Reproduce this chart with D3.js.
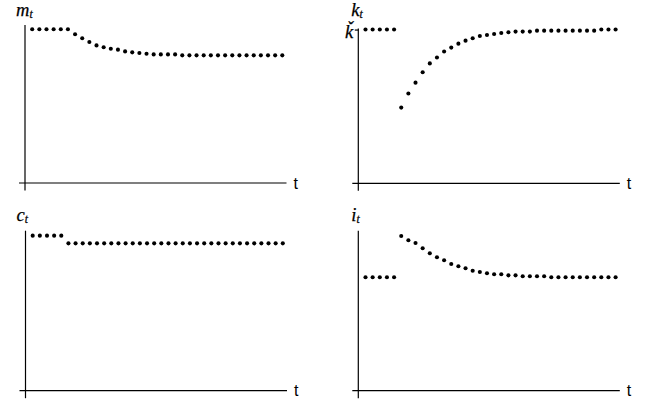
<!DOCTYPE html>
<html><head><meta charset="utf-8">
<script src="https://cdn.jsdelivr.net/npm/d3@7"></script>
<style>
html,body{margin:0;padding:0;background:#fff;}
svg{display:block;}
</style></head>
<body>
<svg id="c" width="648" height="401"></svg>
<script>
// period index
const periods = [0,1,2,3,4,5,6,7,8,9,10,11,12,13,14,15,16,17,18,19,20,21,22,23,24,25,26,27,28,29,30,31,32,33,34,35];
// series (arbitrary units: axis = 0, top of plot = 100)
const mSeries = [97.3,97.3,97.3,97.3,97.3,97.3,94.1,91.6,89.2,87.1,85.9,85.0,84.4,83.3,82.7,82.3,81.8,81.4,81.4,81.4,81.4,
  80.8,80.8,80.8,80.8,80.8,80.8,80.8,80.8,80.8,80.8,80.8,80.8,80.8,80.8,80.8];
const kSeries = [97.3,97.3,97.3,97.3,97.3,47.9,56.8,63.7,70.3,75.9,79.6,83.4,85.9,88.4,90.3,91.8,93.2,93.9,94.5,95.1,95.6,
  96.0,96.0,96.0,96.6,96.6,96.6,96.6,96.6,96.6,96.6,96.6,96.6,97.3,97.3,97.3];
const cSeries = [96.9,96.9,96.9,96.9,96.9,92.1,92.1,92.1,92.1,92.1,92.1,92.1,92.1,92.1,92.1,92.1,92.1,92.1,92.1,92.1,92.1,
  92.1,92.1,92.1,92.1,92.1,92.1,92.1,92.1,92.1,92.1,92.1,92.1,92.1,92.1,92.1];
const iSeries = [70.9,70.9,70.9,70.9,70.9,96.7,94.0,92.3,89.0,85.9,83.4,81.5,79.2,77.8,76.5,75.0,74.2,73.4,72.8,72.8,72.1,
  72.1,71.5,71.5,71.5,71.5,70.9,70.9,70.9,70.9,70.9,70.9,70.9,70.9,70.9,70.9];
const kSteady = [97.3];
const kSteadyLabel = ["ǩ"];
const seriesNames = ["m","k","c","i"];
const xLabel = "t";

const panels = [
  {name:"m", data:mSeries, ax:25,    ay:183,   h:158, lineTop:25,   lx:-9, ly:15.5,  tick:false},
  {name:"k", data:kSeries, ax:358.3, ay:183.3, h:158, lineTop:28.5, lx:-7, ly:15.5,  tick:true},
  {name:"c", data:cSeries, ax:25.5,  ay:390.7, h:160, lineTop:230.7,lx:-9, ly:221.3, tick:false},
  {name:"i", data:iSeries, ax:358.3, ay:390.7, h:160, lineTop:230.7,lx:-7, ly:221.3, tick:false}
];

const svg = d3.select("#c");

panels.forEach((p, pi) => {
  const x = d3.scaleLinear().domain([0, 35]).range([p.ax + 7.2, p.ax + 257.3]);
  const y = d3.scaleLinear().domain([0, 100]).range([p.ay, p.ay - p.h]);
  const g = svg.append("g");

  // x axis line (extends a bit left of y axis)
  g.append("line")
    .attr("x1", p.ax - 6).attr("x2", p.ax + 261.5)
    .attr("y1", p.ay).attr("y2", p.ay)
    .attr("stroke", "#000").attr("stroke-width", 1.2);
  // y axis line (extends a bit below x axis)
  g.append("line")
    .attr("x1", p.ax).attr("x2", p.ax)
    .attr("y1", p.lineTop).attr("y2", p.ay + 7.5)
    .attr("stroke", "#000").attr("stroke-width", 1.2);

  // dots
  g.selectAll("circle.d").data(p.data).join("circle")
    .attr("class", "d")
    .attr("cx", (d, i) => x(periods[i]))
    .attr("cy", d => y(d))
    .attr("r", 2.05)
    .attr("fill", "#000");

  // "t" label
  g.append("text")
    .attr("x", p.ax + 268.5).attr("y", p.ay + 5.5)
    .attr("font-family", "'Liberation Sans', Arial, sans-serif")
    .attr("font-size", 16)
    .text(xLabel);

  // variable label with subscript
  const lbl = g.append("text")
    .attr("x", p.ax + p.lx).attr("y", p.ly)
    .attr("font-family", "'Liberation Serif', 'Times New Roman', serif")
    .attr("font-style", "italic")
    .attr("font-size", 18.5)
    .attr("stroke", "#000").attr("stroke-width", 0.25);
  lbl.append("tspan").text(seriesNames[pi]);
  lbl.append("tspan").attr("font-size", 11.5).attr("dy", 2).text("t");

  if (p.tick) {
    const ax = d3.axisLeft(y).tickValues(kSteady).tickSize(3.5).tickPadding(1.5)
      .tickFormat((d, i) => kSteadyLabel[i]);
    const ag = g.append("g").attr("transform", `translate(${p.ax},0)`).call(ax);
    ag.select(".domain").remove();
    ag.selectAll("line").attr("stroke", "#000").attr("stroke-width", 1.2);
    ag.selectAll("text")
      .attr("dy", "0.42em")
      .attr("fill", "#000")
      .attr("stroke", "#000").attr("stroke-width", 0.25)
      .attr("font-family", "'Liberation Serif', 'Times New Roman', serif")
      .attr("font-style", "italic")
      .attr("font-size", 18.5);
  }
});
</script>
</body></html>
